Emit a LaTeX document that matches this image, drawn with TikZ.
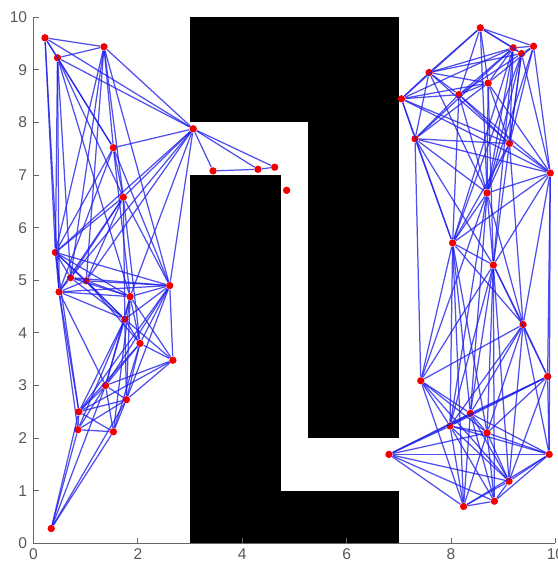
\documentclass[tikz,border=0pt]{standalone}
\usepackage{fontspec}
\setmainfont{Liberation Sans}
\begin{document}
\begin{tikzpicture}[x=1cm, y=1.0077cm,
  wall/.style={fill=black, draw=none},
  wp/.style={circle, fill=red!95!black, inner sep=0pt, minimum size=4pt},
  roadmap/.style={draw={rgb,255:red,30;green,30;blue,235}, line width=0.68pt, opacity=0.78},
  plotaxis/.style={draw=black!60, line width=0.6pt},
  ticklab/.style={font=\fontsize{8.5}{9}\selectfont, text=black!65, inner sep=1pt}
]
  \useasboundingbox (-0.642,-0.356) rectangle (10.048,10.329);

  % obstacles
  \fill[wall] (3,8) rectangle (7,10);
  \fill[wall] (5.25,2) rectangle (7,8);
  \fill[wall] (3,0) rectangle (4.75,7);
  \fill[wall] (4.75,0) rectangle (7,1);

  % axes
  \draw[plotaxis] (0,10) -- (0,0) -- (10,0);
  \foreach \x in {0,2,...,10} {
    \draw[plotaxis] (\x,0) -- (\x,0.1);
    \node[ticklab, anchor=north] (xl\x) at (\x,-0.06) {\x};
  }
  \foreach \y in {0,...,10} {
    \draw[plotaxis] (0,\y) -- (0.1,\y);
    \node[ticklab, anchor=east] (yl\y) at (-0.08,\y) {\y};
  }

  % left roadmap
  \node[wp] (l1)  at (0.22,9.61) {};
  \node[wp] (l2)  at (0.46,9.23) {};
  \node[wp] (l3)  at (1.35,9.44) {};
  \node[wp] (l4)  at (3.06,7.88) {};
  \node[wp] (l5)  at (1.53,7.52) {};
  \node[wp] (l6)  at (1.72,6.58) {};
  \node[wp] (l7)  at (0.42,5.53) {};
  \node[wp] (l8)  at (3.44,7.08) {};
  \node[wp] (l9)  at (4.30,7.11) {};
  \node[wp] (l10) at (4.62,7.15) {};
  \node[wp] (l11) at (0.71,5.05) {};
  \node[wp] (l12) at (1.01,4.99) {};
  \node[wp] (l13) at (0.49,4.78) {};
  \node[wp] (l14) at (1.85,4.69) {};
  \node[wp] (l15) at (2.61,4.90) {};
  \node[wp] (l16) at (1.75,4.26) {};
  \node[wp] (l17) at (2.04,3.80) {};
  \node[wp] (l18) at (2.67,3.48) {};
  \node[wp] (l19) at (1.38,3.00) {};
  \node[wp] (l20) at (1.78,2.73) {};
  \node[wp] (l21) at (0.87,2.50) {};
  \node[wp] (l22) at (0.85,2.16) {};
  \node[wp] (l23) at (1.53,2.12) {};
  \node[wp] (l24) at (0.34,0.28) {};
  \node[wp] (lone) at (4.85,6.71) {};

  % right roadmap
  \node[wp] (r1)  at (8.56,9.80) {};
  \node[wp] (r2)  at (9.19,9.42) {};
  \node[wp] (r3)  at (9.58,9.45) {};
  \node[wp] (r4)  at (9.35,9.31) {};
  \node[wp] (r5)  at (7.58,8.95) {};
  \node[wp] (r6)  at (7.05,8.45) {};
  \node[wp] (r7)  at (8.15,8.53) {};
  \node[wp] (r8)  at (8.71,8.75) {};
  \node[wp] (r9)  at (7.31,7.69) {};
  \node[wp] (r10) at (9.12,7.60) {};
  \node[wp] (r11) at (9.90,7.04) {};
  \node[wp] (r12) at (8.69,6.66) {};
  \node[wp] (r13) at (8.03,5.71) {};
  \node[wp] (r14) at (8.81,5.29) {};
  \node[wp] (r15) at (9.38,4.16) {};
  \node[wp] (r16) at (9.85,3.17) {};
  \node[wp] (r17) at (7.42,3.09) {};
  \node[wp] (r18) at (8.37,2.47) {};
  \node[wp] (r19) at (7.98,2.23) {};
  \node[wp] (r20) at (8.69,2.10) {};
  \node[wp] (r21) at (6.81,1.69) {};
  \node[wp] (r22) at (9.88,1.69) {};
  \node[wp] (r23) at (9.11,1.18) {};
  \node[wp] (r24) at (8.24,0.70) {};
  \node[wp] (r25) at (8.83,0.80) {};

  \foreach \a/\b in {l1/l2, l1/l3, l1/l4, l1/l5, l1/l7, l1/l13,
      l2/l3, l2/l4, l2/l5, l2/l6, l2/l7, l2/l11, l2/l13, l2/l14,
      l3/l4, l3/l5, l3/l6, l3/l7, l3/l11, l3/l12, l3/l15,
      l4/l5, l4/l6, l4/l7, l4/l8, l4/l9, l4/l10, l4/l11, l4/l12, l4/l14, l4/l15,
      l5/l6, l5/l7, l5/l13, l5/l14, l5/l15,
      l6/l7, l6/l11, l6/l12, l6/l13, l6/l15, l6/l16, l6/l17,
      l7/l11, l7/l12, l7/l13, l7/l14, l7/l15, l7/l16, l7/l21,
      l8/l9, l9/l10,
      l11/l12, l11/l13, l11/l14, l11/l15, l11/l16,
      l12/l13, l12/l14, l12/l15, l12/l16, l12/l17,
      l13/l14, l13/l15, l13/l16, l13/l19, l13/l21, l13/l22,
      l14/l15, l14/l16, l14/l17, l14/l18, l14/l19, l14/l20, l14/l23,
      l15/l16, l15/l17, l15/l18, l15/l19, l15/l20, l15/l21,
      l16/l17, l16/l18, l16/l19, l16/l20, l16/l21, l16/l22,
      l17/l18, l17/l19, l17/l20, l17/l21, l17/l23,
      l18/l19, l18/l20, l18/l21,
      l19/l20, l19/l21, l19/l22, l19/l23, l19/l24,
      l20/l21, l20/l22, l20/l23, l20/l24,
      l21/l22, l21/l23, l21/l24,
      l22/l23, l22/l24, l23/l24}
    \draw[roadmap] (\a) -- (\b);

  \foreach \a/\b in {r1/r2, r1/r3, r1/r4, r1/r5, r1/r6, r1/r7, r1/r8, r1/r12,
      r2/r3, r2/r4, r2/r5, r2/r6, r2/r7, r2/r8, r2/r9, r2/r10, r2/r12, r2/r13, r2/r14,
      r3/r4, r3/r8, r3/r10, r3/r11, r3/r12,
      r4/r5, r4/r7, r4/r10, r4/r11, r4/r12, r4/r13, r4/r14,
      r5/r6, r5/r7, r5/r8, r5/r9, r5/r10, r5/r12,
      r6/r7, r6/r8, r6/r9, r6/r10, r6/r11, r6/r13,
      r7/r8, r7/r9, r7/r10, r7/r11, r7/r12, r7/r13,
      r8/r9, r8/r10, r8/r11, r8/r12, r8/r14,
      r9/r10, r9/r11, r9/r12, r9/r13, r9/r14, r9/r17,
      r10/r11, r10/r12, r10/r13, r10/r15,
      r11/r12, r11/r13, r11/r14, r11/r15, r11/r16, r11/r22,
      r12/r13, r12/r14, r12/r15, r12/r17, r12/r18, r12/r19,
      r13/r14, r13/r15, r13/r17, r13/r18, r13/r19, r13/r20, r13/r24,
      r14/r15, r14/r16, r14/r17, r14/r18, r14/r19, r14/r20, r14/r23, r14/r25,
      r15/r16, r15/r17, r15/r18, r15/r19, r15/r20, r15/r22, r15/r23,
      r16/r18, r16/r19, r16/r20, r16/r21, r16/r22, r16/r23,
      r17/r18, r17/r19, r17/r20, r17/r23, r17/r24,
      r18/r19, r18/r20, r18/r21, r18/r22, r18/r23, r18/r24, r18/r25,
      r19/r20, r19/r21, r19/r22, r19/r23, r19/r24, r19/r25,
      r20/r21, r20/r22, r20/r23, r20/r24, r20/r25,
      r21/r22, r21/r23, r21/r24, r21/r25,
      r22/r23, r22/r24, r22/r25, r23/r24, r23/r25, r24/r25}
    \draw[roadmap] (\a) -- (\b);
\end{tikzpicture}
\end{document}
